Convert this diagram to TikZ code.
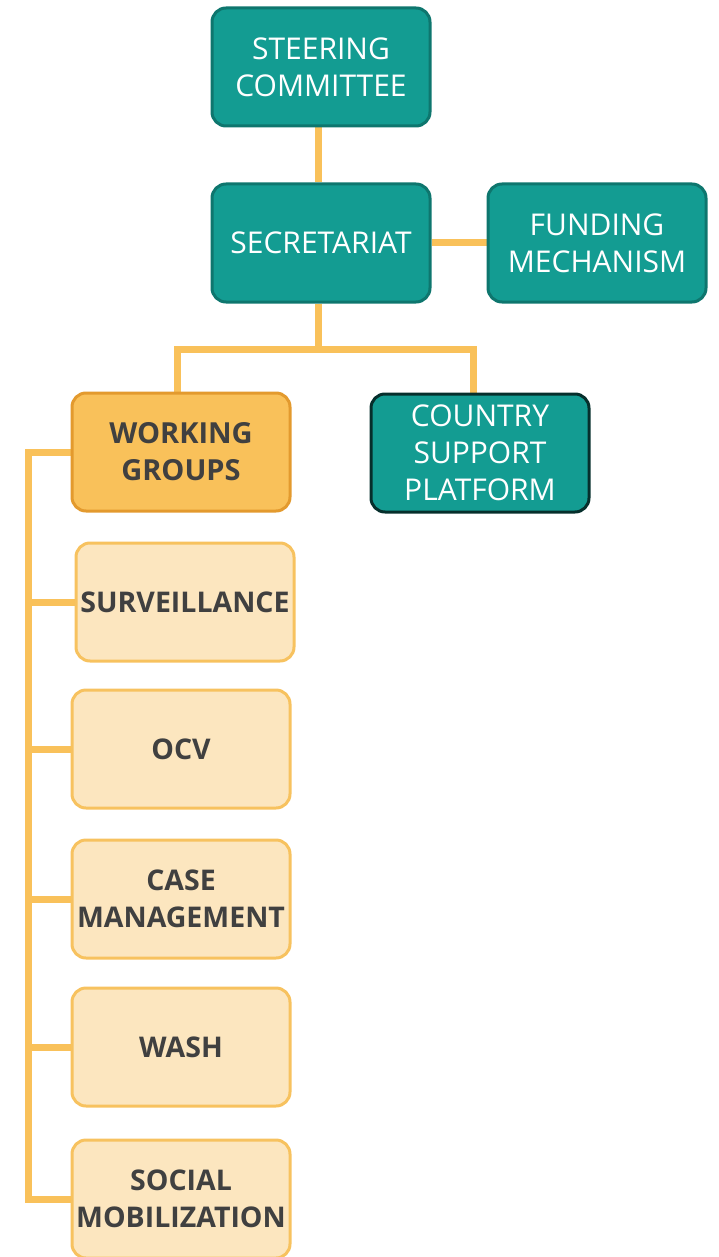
\documentclass[tikz,border=0pt]{standalone}
\usepackage{fontspec}
\setmainfont{Open Sans}
\usepackage{tikz}
\usetikzlibrary{positioning,backgrounds}
\definecolor{teal}{HTML}{139C92}
\definecolor{tealedge}{HTML}{0E766E}
\definecolor{gold}{HTML}{F9C15A}
\definecolor{goldedge}{HTML}{E39A2E}
\definecolor{cream}{HTML}{FCE6BF}
\definecolor{creamedge}{HTML}{F7C25F}
\definecolor{darktext}{HTML}{404040}
\tikzset{
    body/.style={
    rectangle,rounded corners=14pt,line width=3pt,minimum width=218pt,minimum height=118pt,
    align=center,font=\fontsize{30}{37}\selectfont,inner sep=2pt
    },
    board/.style={
    body,draw=tealedge,fill=teal,text=white
    },
    group/.style={
    body,draw=goldedge,fill=gold,text=darktext,font=\fontsize{29}{37}\selectfont\bfseries
    },
    task/.style={
    body,draw=creamedge,fill=cream,text=darktext,font=\fontsize{28.5}{37}\selectfont\bfseries
    },
    link/.style={
    draw=gold,line width=7pt
    },
}
\begin{document}
\begin{tikzpicture}[x=1pt,y=-1pt]
   \useasboundingbox (0,0) rectangle (718,1257);

   %top
   \node[board] (steer) at (321,67) {STEERING\\COMMITTEE};
   \node[board] (sec) at (321,243) {SECRETARIAT};
   \node[board] (fund) at (597,243) {FUNDING\\MECHANISM};

   %second level
   \node[group] (wg) at (181,452) {WORKING\\GROUPS};
   \node[board,draw=black!70!teal] (csp) at (480,453) {COUNTRY\\SUPPORT\\PLATFORM};

   %working groups
   \node[task] (surv) at (185,602) {SURVEILLANCE};
   \node[task] (ocv) at (181,749) {OCV};
   \node[task] (case) at (181,899) {CASE\\MANAGEMENT};
   \node[task] (wash) at (181,1047) {WASH};
   \node[task] (soc) at (181,1199) {SOCIAL\\MOBILIZATION};

   \coordinate (split) at (318,349);
   \coordinate (bus) at (28,0);

   \begin{scope}[on background layer]
     \draw[link] (steer.south -| split) -- (sec.north -| split);
     \draw[link] (sec) -- (fund);
     \draw[link] (sec.south -| split) -- (split);
     \draw[link] (wg.north -| 177,0) |- (split) -| (csp.north -| 473,0);

     %working groups bus
     \draw[link] (wg.west) -| (bus |- soc.west) -- (soc.west);
     \foreach \t in {surv,ocv,case,wash}
       \draw[link] (bus |- \t.west) -- (\t.west);
   \end{scope}
\end{tikzpicture}
\end{document}
